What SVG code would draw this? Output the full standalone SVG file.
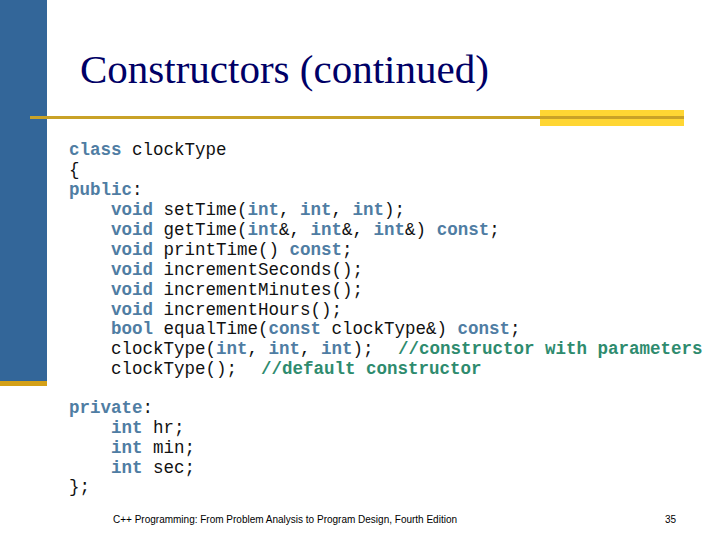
<svg xmlns="http://www.w3.org/2000/svg" width="720" height="540" viewBox="0 0 720 540">
<style>
.c{font-family:"Liberation Mono","Courier New",monospace;font-size:17.5px;fill:#111}
.k{fill:#4f7da3;font-weight:bold}
.m{fill:#2e8b6e;font-weight:bold}
.f{font-family:"Liberation Sans",Arial,sans-serif;font-size:10px;fill:#000}
</style>
<rect width="720" height="540" fill="#fff"/>
<g id="frame">
<rect x="0" y="0" width="47" height="381" fill="#336699"/>
<rect x="0" y="381" width="47" height="5" fill="#d4a017"/>
<rect x="540" y="110" width="144" height="16" fill="#ffd633"/>
<rect x="30" y="116" width="654" height="3" fill="#c9a227"/>
</g>
<g id="title"><text x="80" y="83" font-family="Liberation Serif,serif" font-size="41" fill="#000066">Constructors (continued)</text></g>
<g id="code" class="c" font-family="Liberation Mono, Courier New, monospace">
<text x="69" y="155"><tspan class="k">class</tspan> clockType</text>
<text x="69" y="175">{</text>
<text x="69" y="195"><tspan class="k">public</tspan>:</text>
<text x="111" y="215"><tspan class="k">void</tspan> setTime(<tspan class="k">int</tspan>, <tspan class="k">int</tspan>, <tspan class="k">int</tspan>);</text>
<text x="111" y="235"><tspan class="k">void</tspan> getTime(<tspan class="k">int</tspan>&amp;, <tspan class="k">int</tspan>&amp;, <tspan class="k">int</tspan>&amp;) <tspan class="k">const</tspan>;</text>
<text x="111" y="255"><tspan class="k">void</tspan> printTime() <tspan class="k">const</tspan>;</text>
<text x="111" y="275"><tspan class="k">void</tspan> incrementSeconds();</text>
<text x="111" y="295"><tspan class="k">void</tspan> incrementMinutes();</text>
<text x="111" y="315"><tspan class="k">void</tspan> incrementHours();</text>
<text x="111" y="334"><tspan class="k">bool</tspan> equalTime(<tspan class="k">const</tspan> clockType&amp;) <tspan class="k">const</tspan>;</text>
<text x="111" y="354">clockType(<tspan class="k">int</tspan>, <tspan class="k">int</tspan>, <tspan class="k">int</tspan>);<tspan class="m" x="398">//constructor with parameters</tspan></text>
<text x="111" y="374">clockType();<tspan class="m" x="261">//default constructor</tspan></text>
<text x="69" y="413"><tspan class="k">private</tspan>:</text>
<text x="111" y="433"><tspan class="k">int</tspan> hr;</text>
<text x="111" y="453"><tspan class="k">int</tspan> min;</text>
<text x="111" y="473"><tspan class="k">int</tspan> sec;</text>
<text x="69" y="492">};</text>
</g>
<g id="footer">
<text class="f" x="113" y="523">C++ Programming: From Problem Analysis to Program Design, Fourth Edition</text>
<text class="f" x="665" y="523">35</text>
</g>
</svg>
